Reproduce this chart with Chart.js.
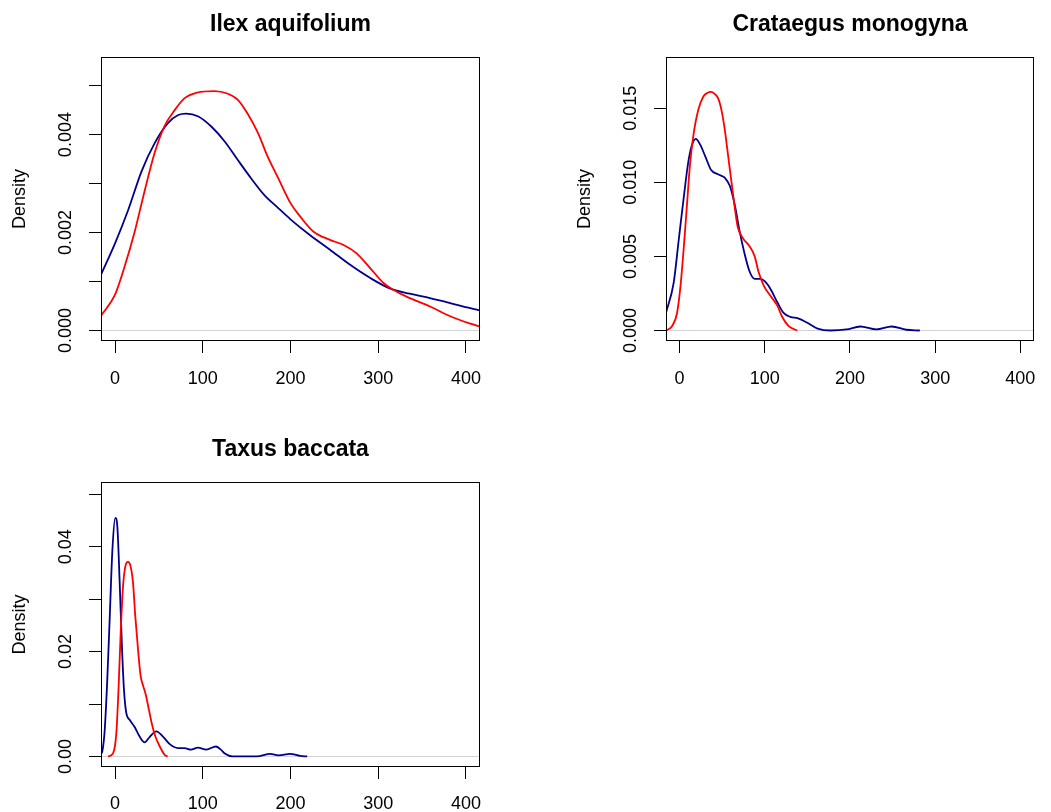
<!DOCTYPE html>
<html>
<head>
<meta charset="utf-8">
<title>Density by species</title>
<script src="https://cdn.jsdelivr.net/npm/chart.js@4.4.1/dist/chart.umd.min.js"></script>
<style>
  html, body { margin: 0; padding: 0; background: #fff; }
  body { width: 1051px; height: 812px; position: relative; overflow: hidden; }
  canvas { position: absolute; }
</style>
</head>
<body>
<canvas id="ilex" width="525" height="406" style="left:0;top:0"></canvas>
<canvas id="crataegus" width="526" height="406" style="left:525px;top:0"></canvas>
<canvas id="taxus" width="525" height="406" style="left:0;top:406px"></canvas>
<script>
// shared x axis
const xLim = [-16, 416];
const xTicks = [0, 100, 200, 300, 400];
const xTickLabels = ['0', '100', '200', '300', '400'];

// Ilex aquifolium
const ilexBlueX = [-16, 0, 15, 30, 45, 60, 72, 81, 95, 110, 125, 140, 155, 170, 186, 200, 222, 245, 268, 291, 313, 336, 359, 382, 405, 416];
const ilexBlueY = [0.00114, 0.00178, 0.00246, 0.00324, 0.00382, 0.00423, 0.00440, 0.00443, 0.00437, 0.00416, 0.00386, 0.00348, 0.00311, 0.00277, 0.00250, 0.00227, 0.00195, 0.00165, 0.00134, 0.00107, 0.00086, 0.00075, 0.00066, 0.00056, 0.000455, 0.00041];
const ilexRedX = [-16, 0, 11, 22, 34, 45, 56, 68, 79, 94, 113, 128, 140, 151, 163, 174, 186, 200, 211, 226, 245, 260, 275, 291, 306, 317, 336, 359, 382, 405, 416];
const ilexRedY = [0.00030, 0.00073, 0.00131, 0.00199, 0.00287, 0.00362, 0.00416, 0.00450, 0.00474, 0.00486, 0.00489, 0.00484, 0.00471, 0.00443, 0.00403, 0.00355, 0.00311, 0.00260, 0.00233, 0.00202, 0.00185, 0.00175, 0.00158, 0.00127, 0.00097, 0.00083, 0.00066, 0.00049, 0.00029, 0.00014, 0.00008];
const ilexYLim = [-0.000215, 0.005585];
const ilexYTicks = [0, 0.001, 0.002, 0.003, 0.004, 0.005];
const ilexYLabels = ['0.000', '', '0.002', '', '0.004', ''];

// Crataegus monogyna
const crataegusBlueX = [-16, -7, -1, 5, 10, 14, 19, 24, 30, 37, 45, 53, 59, 65, 70, 76, 82, 88, 95, 101, 107, 115, 122, 130, 139, 150, 162, 177, 196, 212, 231, 249, 266, 282];
const crataegusBlueY = [0.0012, 0.00322, 0.00614, 0.00906, 0.01131, 0.01244, 0.01294, 0.01256, 0.01177, 0.01083, 0.01054, 0.01031, 0.00975, 0.0084, 0.00682, 0.00524, 0.0040, 0.00349, 0.00349, 0.00326, 0.00277, 0.00187, 0.00119, 0.00092, 0.00082, 0.00052, 0.00013, 0.0, 0.00007, 0.00027, 0.00007, 0.00027, 0.00005, 0.0];
const crataegusRedX = [-16, -9, -3, 1, 5, 8.5, 12, 16, 22, 28, 33, 36.5, 40, 45, 49, 53, 57, 61, 64.5, 68, 74, 82, 88, 93, 99, 107, 115, 120, 128, 138];
const crataegusRedY = [0.0, 0.00029, 0.00119, 0.00299, 0.00569, 0.00839, 0.01109, 0.01311, 0.01491, 0.01581, 0.01605, 0.0161, 0.01602, 0.0157, 0.01491, 0.01356, 0.01176, 0.00997, 0.00839, 0.00704, 0.00625, 0.00569, 0.00502, 0.00389, 0.00299, 0.00231, 0.00164, 0.00096, 0.00029, 0.0];
const crataegusYLim = [-0.00071, 0.01846];
const crataegusYTicks = [0, 0.005, 0.010, 0.015];
const crataegusYLabels = ['0.000', '0.005', '0.010', '0.015'];

// Taxus baccata
const taxusBlueX = [-16, -14.5, -12, -9, -6, -3, 0.3, 2.6, 5.3, 8, 10.2, 12.8, 16.6, 22, 28, 33.7, 39.4, 47, 54.6, 62, 71.7, 79, 86.5, 94.5, 104, 115, 120, 125.6, 133.5, 161.7, 177, 186.4, 199.7, 211, 219];
const taxusBlueY = [0.0005, 0.0010, 0.0045, 0.0140, 0.0267, 0.0394, 0.0455, 0.0439, 0.0331, 0.0204, 0.0127, 0.0083, 0.0070, 0.0057, 0.0038, 0.0027, 0.0037, 0.0048, 0.0038, 0.0024, 0.0016, 0.0016, 0.0013, 0.0017, 0.0013, 0.0019, 0.0014, 0.0005, 0.0, 0.0, 0.0005, 0.0002, 0.0005, 0.0001, 0.0];
const taxusRedX = [-8, -2.3, 1.5, 4.1, 6.4, 9.1, 11.7, 14.8, 17.8, 20.5, 23.1, 26.2, 29.2, 32, 35, 38.5, 42, 46, 51, 56.6, 60];
const taxusRedY = [0.0, 0.0006, 0.0045, 0.0134, 0.0235, 0.0324, 0.0362, 0.0371, 0.0362, 0.0331, 0.0267, 0.0204, 0.0153, 0.0135, 0.0118, 0.0090, 0.0062, 0.0038, 0.0019, 0.0003, 0.0];
const taxusYLim = [-0.00201, 0.05233];
const taxusYTicks = [0, 0.01, 0.02, 0.03, 0.04, 0.05];
const taxusYLabels = ['0.00', '', '0.02', '', '0.04', ''];

const RED = '#ff0000';
const BLUE = '#00008b';
const ZERO_LINE = '#d3d3d3';

Chart.defaults.font.family = '"Liberation Sans", Arial, Helvetica, sans-serif';
Chart.defaults.color = '#000';

// frame around the plotting region
const plotBox = {
  id: 'plotBox',
  afterDraw(chart) {
    const { ctx, chartArea: a } = chart;
    ctx.save();
    ctx.strokeStyle = '#000';
    ctx.lineWidth = 1;
    ctx.strokeRect(a.left + 0.5, a.top + 0.5, a.right - a.left - 1, a.bottom - a.top - 1);
    ctx.restore();
  }
};

const toPoints = (xs, ys) => xs.map((x, i) => ({ x: x, y: ys[i] }));

function densityPanel(id, title, blue, red, yLim, yTicks, yLabels, opts) {
  const line = (data, color) => ({
    data: data,
    borderColor: color,
    borderWidth: 1.8,
    pointRadius: 0,
    fill: false,
    cubicInterpolationMode: 'monotone',
    clip: 0
  });

  return new Chart(document.getElementById(id), {
    type: 'line',
    data: {
      datasets: [line(red, RED), line(blue, BLUE)]
    },
    options: {
      responsive: false,
      animation: false,
      layout: { padding: { left: opts.padLeft, right: opts.padRight, top: 0, bottom: 0 } },
      plugins: {
        legend: { display: false },
        tooltip: { enabled: false },
        title: {
          display: true,
          text: title,
          fullSize: false,
          font: { size: 23, weight: 'bold' },
          padding: { top: opts.titleTop, bottom: 18.4 }
        }
      },
      scales: {
        x: {
          type: 'linear',
          min: xLim[0],
          max: xLim[1],
          afterBuildTicks: (axis) => { axis.ticks = xTicks.map(v => ({ value: v })); },
          afterFit: (scale) => { scale.height = opts.xHeight; },
          border: { display: false },
          grid: { drawOnChartArea: false, tickLength: 12, tickColor: '#000', lineWidth: 1 },
          ticks: {
            autoSkip: false,
            maxRotation: 0,
            padding: opts.xPad,
            font: { size: 18 },
            callback: (v, i) => xTickLabels[i]
          }
        },
        y: {
          type: 'linear',
          min: yLim[0],
          max: yLim[1],
          afterBuildTicks: (axis) => { axis.ticks = yTicks.map(v => ({ value: v })); },
          afterFit: (scale) => { scale.width = 101; },
          border: { display: false },
          grid: {
            tickLength: 12,
            tickColor: '#000',
            lineWidth: 1,
            color: (c) => (c.tick && c.tick.value === 0 ? ZERO_LINE : 'rgba(0,0,0,0)')
          },
          ticks: {
            autoSkip: false,
            minRotation: 90,
            maxRotation: 90,
            crossAlign: 'center',
            padding: opts.yPad,
            font: { size: 18 },
            callback: (v, i) => yLabels[i]
          },
          title: {
            display: true,
            text: 'Density',
            font: { size: 18 },
            padding: { top: 9.5, bottom: 0 }
          }
        }
      }
    },
    plugins: [plotBox]
  });
}

densityPanel('ilex', 'Ilex aquifolium',
  toPoints(ilexBlueX, ilexBlueY), toPoints(ilexRedX, ilexRedY),
  ilexYLim, ilexYTicks, ilexYLabels,
  { padLeft: 0, padRight: 45, titleTop: 11, xHeight: 65, xPad: 15, yPad: 0 });

densityPanel('crataegus', 'Crataegus monogyna',
  toPoints(crataegusBlueX, crataegusBlueY), toPoints(crataegusRedX, crataegusRedY),
  crataegusYLim, crataegusYTicks, crataegusYLabels,
  { padLeft: 40, padRight: 11, titleTop: 11, xHeight: 65, xPad: 15, yPad: 0 });

densityPanel('taxus', 'Taxus baccata',
  toPoints(taxusBlueX, taxusBlueY), toPoints(taxusRedX, taxusRedY),
  taxusYLim, taxusYTicks, taxusYLabels,
  { padLeft: 0, padRight: 45, titleTop: 30, xHeight: 45, xPad: 14, yPad: 5 });
</script>
</body>
</html>
